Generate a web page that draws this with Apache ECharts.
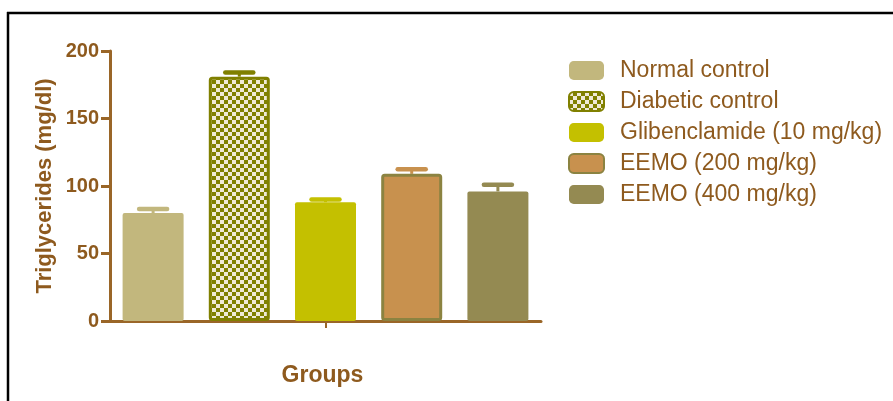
<!DOCTYPE html>
<html>
<head>
<meta charset="utf-8">
<script src="https://cdn.jsdelivr.net/npm/echarts@6/dist/echarts.min.js"></script>
<style>
  html, body { margin: 0; padding: 0; background: #ffffff; }
  #chart { width: 893px; height: 401px; }
</style>
</head>
<body>
<div id="chart"></div>
<script>
// Triglyceride levels per treatment group (mean and SEM, mg/dl)
const groups = ['Normal control', 'Diabetic control', 'Glibenclamide (10 mg/kg)', 'EEMO (200 mg/kg)', 'EEMO (400 mg/kg)'];
const means = [80, 181, 88, 109, 96];
const sem = [3, 3, 2, 3.5, 5];
const yTicks = { min: 0, max: 200, interval: 50 };

const brown = '#9A6628';
const textBrown = '#8E5A1E';
const font = '"Liberation Sans", Arial, sans-serif';

// checkerboard fill for the diabetic control bar
function checker() {
  const c = document.createElement('canvas');
  c.width = 8; c.height = 8;
  const g = c.getContext('2d');
  g.fillStyle = '#808000';
  g.fillRect(0, 0, 8, 8);
  g.fillStyle = '#F0EAD6';
  g.fillRect(0, 0, 4, 4);
  g.fillRect(4, 4, 4, 4);
  return c;
}

const styles = [
  { color: '#C2B77D' },
  { color: { image: checker(), repeat: 'repeat' }, borderColor: '#808000', borderWidth: 3 },
  { color: '#C4C000' },
  { color: '#C8914E', borderColor: '#8B8341', borderWidth: 3 },
  { color: '#948A52' }
];
const capColors = ['#C2B77D', '#808000', '#C4C000', '#C8914E', '#948A52'];

const barSeries = groups.map((name, i) => ({
  name: name,
  type: 'bar',
  xAxisIndex: 0,
  barWidth: 61,
  barGap: '-100%',
  itemStyle: Object.assign({ borderRadius: 2 }, styles[i]),
  data: means.map((v, j) => (j === i ? v : '-'))
}));

const errorSeries = {
  name: 'sem',
  type: 'custom',
  xAxisIndex: 0,
  z: 1,
  data: means.map((m, i) => [i, m, m + sem[i]]),
  renderItem: function (params, api) {
    const i = api.value(0);
    const base = api.coord([i, api.value(1)]);
    const top = api.coord([i, api.value(2)]);
    const col = capColors[i];
    return {
      type: 'group',
      children: [
        { type: 'line', shape: { x1: base[0], y1: base[1], x2: top[0], y2: top[1] },
          style: { stroke: col, lineWidth: 3 } },
        { type: 'line', shape: { x1: top[0] - 14, y1: top[1], x2: top[0] + 14, y2: top[1] },
          style: { stroke: col, lineWidth: 4.5, lineCap: 'round' } }
      ]
    };
  }
};

const chart = echarts.init(document.getElementById('chart'), null, { renderer: 'canvas' });
chart.setOption({
  animation: false,
  backgroundColor: '#ffffff',
  grid: { left: 110, right: 352, top: 51, bottom: 80 },
  legend: {
    data: groups,
    orient: 'vertical',
    left: 568,
    top: 59,
    padding: 0,
    itemWidth: 35,
    itemHeight: 19,
    itemGap: 8,
    itemStyle: { borderRadius: 0 },
    textStyle: { fontFamily: font, fontSize: 23, lineHeight: 19, color: textBrown, padding: [0, 0, 0, 11] },
    selectedMode: false
  },
  xAxis: [
    {
      type: 'category',
      data: groups,
      axisLine: { lineStyle: { color: brown, width: 3 } },
      axisTick: { show: false },
      axisLabel: { show: false }
    },
    {
      type: 'category',
      data: [''],
      position: 'bottom',
      axisLine: { show: false },
      axisTick: { show: true, alignWithLabel: true, length: 7, lineStyle: { color: brown, width: 2 } },
      axisLabel: { show: false },
      name: 'Groups',
      nameLocation: 'middle',
      nameGap: 43,
      nameTextStyle: { fontFamily: font, fontSize: 23, fontWeight: 'bold', color: textBrown, padding: [0, 6, 0, 0] }
    }
  ],
  yAxis: {
    type: 'value',
    min: yTicks.min,
    max: yTicks.max,
    interval: yTicks.interval,
    name: 'Triglycerides (mg/dl)',
    nameLocation: 'middle',
    nameGap: 54,
    nameTextStyle: { fontFamily: font, fontSize: 22, fontWeight: 'bold', color: textBrown },
    axisLine: { show: true, lineStyle: { color: brown, width: 3 } },
    axisTick: { show: true, length: 9, lineStyle: { color: brown, width: 3 } },
    axisLabel: { margin: 11, fontFamily: font, fontSize: 20, fontWeight: 'bold', color: textBrown },
    splitLine: { show: false }
  },
  graphic: [
    { type: 'line', shape: { x1: 7, y1: 13, x2: 893, y2: 13 }, style: { stroke: '#000', lineWidth: 2.5 } },
    { type: 'line', shape: { x1: 8, y1: 12, x2: 8, y2: 401 }, style: { stroke: '#000', lineWidth: 2.5 } }
  ],
  series: barSeries.concat([errorSeries])
});
</script>
</body>
</html>
